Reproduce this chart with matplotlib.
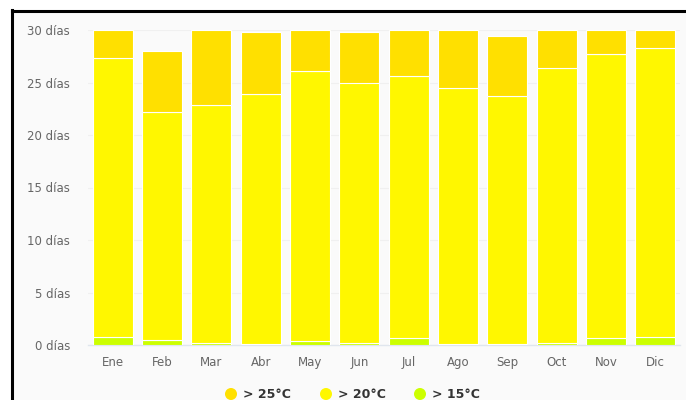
import matplotlib
matplotlib.use("Agg")
import matplotlib.pyplot as plt
from matplotlib.patches import Rectangle, Ellipse
from matplotlib.lines import Line2D
import numpy as np

months = ["Ene", "Feb", "Mar", "Abr", "May", "Jun", "Jul", "Ago", "Sep", "Oct", "Nov", "Dic"]
# day counts per stacked segment
d15 = [0.8, 0.5, 0.2, 0.1, 0.4, 0.2, 0.7, 0.1, 0.1, 0.2, 0.7, 0.8]
d20 = [26.5, 21.7, 22.7, 23.8, 25.7, 24.8, 24.9, 24.4, 23.6, 26.2, 27.0, 27.5]
d25 = [2.7, 5.8, 7.1, 5.9, 3.9, 4.8, 4.4, 5.5, 5.7, 3.6, 2.3, 1.7]
yticks = [0, 5, 10, 15, 20, 25, 30]
series_labels = ["> 25°C", "> 20°C", "> 15°C"]
colors = ["#FFE000", "#FFF700", "#CCFF00"]

W, H = 686, 400
fig = plt.figure(figsize=(W / 100, H / 100), dpi=100)
fig.patch.set_facecolor("white")

# screenshot frame
fig.add_artist(Rectangle((11 / W, 0), 1, (H - 10) / H, transform=fig.transFigure,
                         facecolor="#fafafa", edgecolor="none", zorder=-5))
fig.add_artist(Line2D([11.5 / W, 11.5 / W], [0, (H - 10) / H], transform=fig.transFigure,
                      color="black", lw=2.2, zorder=5))
fig.add_artist(Line2D([11.5 / W, 1], [(H - 10.5) / H, (H - 10.5) / H], transform=fig.transFigure,
                      color="black", lw=2.2, zorder=5))

ax = fig.add_axes([88 / W, 55 / H, (680 - 88) / W, (345 - 30) / H])
ax.set_facecolor("none")
ax.set_zorder(1)
x = np.arange(len(months))
b15 = np.array(d15)
b20 = b15 + np.array(d20)
ax.bar(x, d15, width=0.81, color=colors[2], edgecolor="white", linewidth=0.8, zorder=3)
ax.bar(x, d20, bottom=b15, width=0.81, color=colors[1], edgecolor="white", linewidth=0.8, zorder=3)
ax.bar(x, d25, bottom=b20, width=0.81, color=colors[0], edgecolor="white", linewidth=0.8, zorder=3,
       clip_on=False)

ax.set_xlim(-0.5, len(months) - 0.5)
ax.set_ylim(0, 30)
ax.set_yticks(yticks)
ax.set_yticklabels([f"{v} días" for v in yticks])
ax.set_xticks(x)
ax.set_xticklabels(months)
ax.tick_params(axis="y", length=0, pad=13, labelsize=8.5, labelcolor="#666666")
ax.tick_params(axis="x", length=0, pad=8, labelsize=8.5, labelcolor="#666666")
ax.grid(axis="y", color="#f0f0f0", linewidth=0.8, zorder=0)
for s in ["top", "right", "left"]:
    ax.spines[s].set_visible(False)
ax.spines["bottom"].set_color("#e0e6ee")
ax.spines["bottom"].set_linewidth(1)

# legend
leg_x = [231, 326, 420]
ly = (H - 394) / H
for lx, lab, c in zip(leg_x, series_labels, colors):
    fig.add_artist(Ellipse((lx / W, ly), 12 / W, 12 / H, transform=fig.transFigure,
                           facecolor=c, edgecolor="none", zorder=3))
    fig.text((lx + 12) / W, ly, lab, color="#333333", fontsize=9, fontweight="bold",
             ha="left", va="center")

fig.savefig("out.png", dpi=100)
